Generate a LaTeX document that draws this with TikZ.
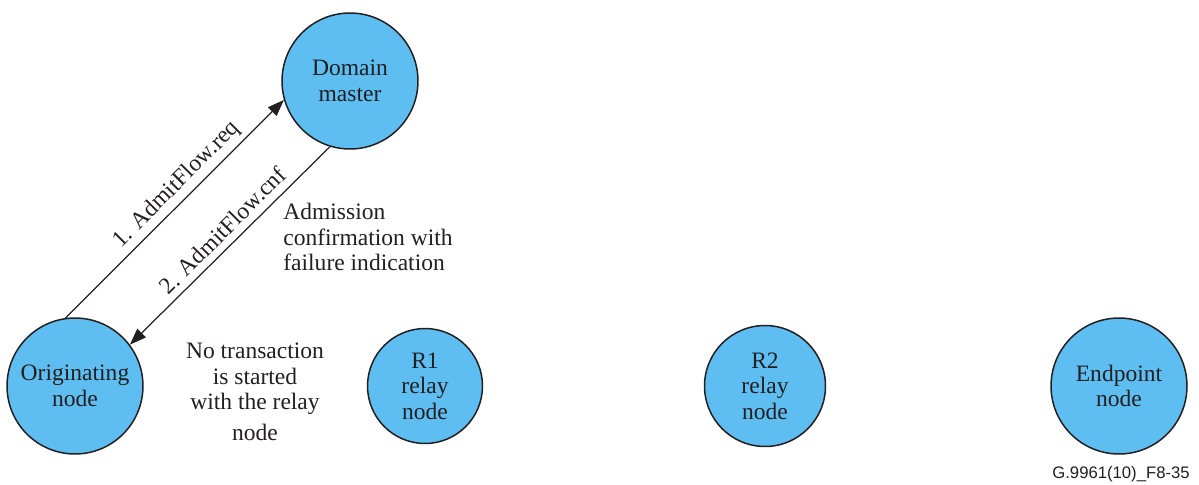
\documentclass[tikz,border=0pt]{standalone}
\usepackage{fontspec}
\setmainfont{Liberation Serif}
\setsansfont{Liberation Sans}
\usetikzlibrary{arrows.meta, positioning, calc}

\definecolor{nodeblue}{RGB}{94,190,242}
\definecolor{inkgray}{RGB}{35,31,32}

\begin{document}
\begin{tikzpicture}[
  x=0.02cm, y=-0.02cm,
  font=\fontsize{13.4}{14.6}\selectfont,
  text=inkgray,
  nd/.style  ={circle, draw=inkgray, fill=nodeblue, line width=0.85pt,
               align=center, inner sep=0pt},
  big/.style ={nd, minimum size=2.72cm},
  msg/.style ={draw=inkgray, line width=0.7pt,
               -{Triangle[length=3.3mm, width=2.4mm]}},
  lbl/.style ={rotate=45, anchor=south, inner sep=2.5pt},
]
\useasboundingbox (0,0) rectangle (1199,484);

% =========================== NODES ==================================
\node[big]                         (DM)  at (350,  81) {Domain\\master};
\node[big]                         (ON)  at ( 75, 386) {Originating\\node};
\node[nd, minimum size=2.30cm]     (R1)  at (425, 386) {R1\\relay\\node};
\node[nd, minimum size=2.42cm]     (R2)  at (765, 386) {R2\\relay\\node};
\node[big]                         (EP)  at (1119,386) {Endpoint\\node};

% =========================== MESSAGES ===============================
% originating node -> domain master
\draw[msg] (ON.98) -- node[lbl, pos=0.56] {1. AdmitFlow.req} (DM.196);
% domain master -> originating node (confirmation)
\draw[msg] (DM.253) -- node[lbl, pos=0.48, inner sep=4pt] {2. AdmitFlow.cnf} (ON.37);

% =========================== NOTES ==================================
\node[anchor=north west, align=left, inner sep=0pt] (adm) at (283, 203)
  {Admission\\confirmation with\\failure indication};
\node[align=center, inner sep=0pt] (notx) at (255, 392)
  {No transaction\\is started\\with the relay\\[3pt]node};

% =========================== FIGURE ID ==============================
\node[anchor=south east, inner sep=0pt, font=\sffamily\fontsize{9.5}{11}\selectfont]
  (fid) at (1190, 482) {G.9961(10)\_F8-35};

\end{tikzpicture}
\end{document}
